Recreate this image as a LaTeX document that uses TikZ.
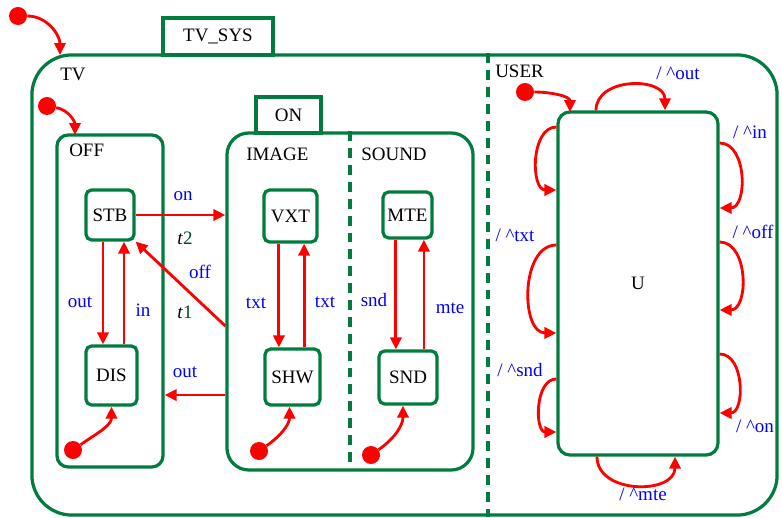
\documentclass[tikz,border=0pt]{standalone}
\usepackage{fontspec}
\setmainfont{Liberation Serif}
\usetikzlibrary{arrows.meta, positioning}
\definecolor{stgreen}{RGB}{0,125,62}
\tikzset{
  region/.style={
    rectangle, draw=stgreen, line width=2.3pt,
    inner sep=0pt,
  },
  tab/.style={
    rectangle, draw=stgreen, line width=2.3pt,
    inner sep=0pt, font=\fontsize{13.5}{15}\selectfont,
  },
  state/.style={
    rectangle, rounded corners=4pt,
    draw=stgreen, line width=2.3pt, inner sep=0pt,
    font=\fontsize{13.5}{15}\selectfont,
  },
  divider/.style={stgreen, line width=2.3pt, dash pattern=on 7pt off 5pt},
  initdot/.style={circle, fill=red, minimum size=0.45cm, inner sep=0pt},
  trans/.style={-{Triangle[length=8.5pt, width=8pt]}, red, line width=2pt},
  regname/.style={anchor=west, inner sep=0pt, font=\fontsize{13.5}{15}\selectfont},
  event/.style={inner sep=0pt, text=blue, font=\fontsize{13.5}{15}\selectfont},
}

\begin{document}
\begin{tikzpicture}[x=0.025cm, y=-0.025cm]
  \useasboundingbox (0,0) rectangle (782,518);

  % Top level TV_SYS
  \node[region, rounded corners=1cm, minimum width=18.625cm, minimum height=11.5cm] (TV) at (404.5,285) {};
  \node[tab, minimum width=2.75cm, minimum height=0.925cm] (tvsys) at (218,36.5) {TV\_SYS};
  \node[regname] (tvname) at (60,74) {TV};
  \node[regname] (username) at (495,71) {USER};
  \draw[divider] (TV.north -| 488,0) -- (TV.south -| 488,0);

  % TV region
  \node[region, rounded corners=8pt, minimum width=2.65cm, minimum height=8.3cm] (OFF) at (110,301) {};
  \node[regname] (offname) at (69,150) {OFF};
  \node[state, minimum width=1.2cm, minimum height=1.25cm] (STB) at (110,215) {STB};
  \node[state, minimum width=1.275cm, minimum height=1.475cm] (DIS) at (111.5,375.5) {DIS};

  \node[region, rounded corners=0.55cm, minimum width=6.15cm, minimum height=8.425cm] (ON) at (350,301.5) {};
  \node[tab, minimum width=1.625cm, minimum height=0.9cm] (ontab) at (288.5,115) {ON};
  \draw[divider] (ON.north -| 350,0) -- ([yshift=0.25cm]ON.south -| 350,0);
  \node[regname] (imagename) at (246,154) {IMAGE};
  \node[regname] (soundname) at (361,154) {SOUND};
  \node[state, minimum width=1.325cm, minimum height=1.3cm] (VXT) at (290.5,216) {VXT};
  \node[state, minimum width=1.375cm, minimum height=1.4cm] (SHW) at (292.5,377) {SHW};
  \node[state, minimum width=1.225cm, minimum height=1.15cm] (MTE) at (407.5,215) {MTE};
  \node[state, minimum width=1.45cm, minimum height=1.325cm] (SND) at (408,377.5) {SND};

  % USER region
  \node[state, rounded corners=0.3cm, minimum width=4cm, minimum height=8.575cm] (U) at (638,283.5) {U};

  % Initial pseudostates
  \node[initdot] (tvinit) at (18,16) {};
  \node[initdot] (offinit) at (47,106) {};
  \node[initdot] (disinit) at (73,450) {};
  \node[initdot] (shwinit) at (259,451) {};
  \node[initdot] (sndinit) at (371,455) {};
  \node[initdot] (userinit) at (525,92) {};
  \coordinate (tventry) at (60,55);
  \coordinate (offentry) at (75,135);
  \coordinate (userentry) at (570,112);

  \draw[trans] (tvinit) to[out=0, in=90] (tventry);
  \draw[trans] (offinit) to[out=-10, in=90] (offentry);
  \draw[trans] (disinit) to[out=35, in=-90] (DIS.south);
  \draw[trans] (shwinit) to[out=35, in=-90] ([xshift=-0.075cm]SHW.south);
  \draw[trans] (sndinit) to[out=35, in=-90] ([xshift=-0.125cm]SND.south);
  \draw[trans] (userinit) to[out=0, in=90] (userentry);

  % Transitions inside TV
  \draw[trans] ([xshift=-0.175cm]STB.south) -- ([xshift=-0.175cm]STB.south |- DIS.north);
  \draw[trans] ([xshift=0.35cm]STB.south |- DIS.north) -- ([xshift=0.35cm]STB.south);
  \draw[trans] ([xshift=-0.29cm]VXT.south) -- ([xshift=-0.29cm]VXT.south |- SHW.north);
  \draw[trans] ([xshift=0.34cm]VXT.south |- SHW.north) -- ([xshift=0.34cm]VXT.south);
  \draw[trans] ([xshift=-0.29cm]MTE.south) -- ([xshift=-0.29cm]MTE.south |- SND.north);
  \draw[trans] ([xshift=0.41cm]MTE.south |- SND.north) -- ([xshift=0.41cm]MTE.south);
  \draw[trans] (STB.east) -- (STB.east -| ON.west);
  \draw[trans] ([yshift=-0.6125cm]ON.west) -- (STB.south east);
  \draw[trans] ([yshift=-2.3375cm]ON.west) -- ([yshift=-2.3375cm]ON.west -| OFF.east);

  % Event labels
  \node[event] (lon) at (183,196) {on};
  \node[inner sep=0pt, font=\fontsize{13.5}{15}\selectfont] (lt2) at (185,238) {\textit{t}\textcolor{stgreen!60!black}{2}};
  \node[event] (loff) at (200,272) {off};
  \node[inner sep=0pt, font=\fontsize{13.5}{15}\selectfont] (lt1) at (185,312) {\textit{t}\textcolor{stgreen!60!black}{1}};
  \node[event] (lout) at (80,302) {out};
  \node[event] (lin) at (143,310) {in};
  \node[event] (lout2) at (185,372) {out};
  \node[event] (ltxt) at (256,303) {txt};
  \node[event] (ltxt2) at (325,302) {txt};
  \node[event] (lsnd) at (374,300) {snd};
  \node[event] (lmte) at (450,308) {mte};

  % Self loops on U
  \draw[trans] (U.north -| 596,0) to[out=90, in=90, looseness=1.25] (U.north -| 665,0);
  \draw[trans] (U.south -| 597,0) to[out=-90, in=-90, looseness=1.25] (U.south -| 675,0);
  \foreach \a/\b in {127/190, 245/333, 379/432}
    \draw[trans] (U.west |- 0,\a) to[out=180, in=180, looseness=1.05] (U.west |- 0,\b);
  \foreach \a/\b in {143/208, 242/310, 354/413}
    \draw[trans] (U.east |- 0,\a) to[out=0, in=0, looseness=1.1] (U.east |- 0,\b);

  \node[event] (uout) at (678,73) {/ \textasciicircum out};
  \node[event] (uin) at (750,132) {/ \textasciicircum in};
  \node[event] (uoff) at (753,232) {/ \textasciicircum off};
  \node[event] (utxt) at (515,235) {/ \textasciicircum txt};
  \node[event] (usnd) at (520,370) {/ \textasciicircum snd};
  \node[event] (uon) at (755,426) {/ \textasciicircum on};
  \node[event] (umte) at (643,494) {/ \textasciicircum mte};

\end{tikzpicture}
\end{document}
